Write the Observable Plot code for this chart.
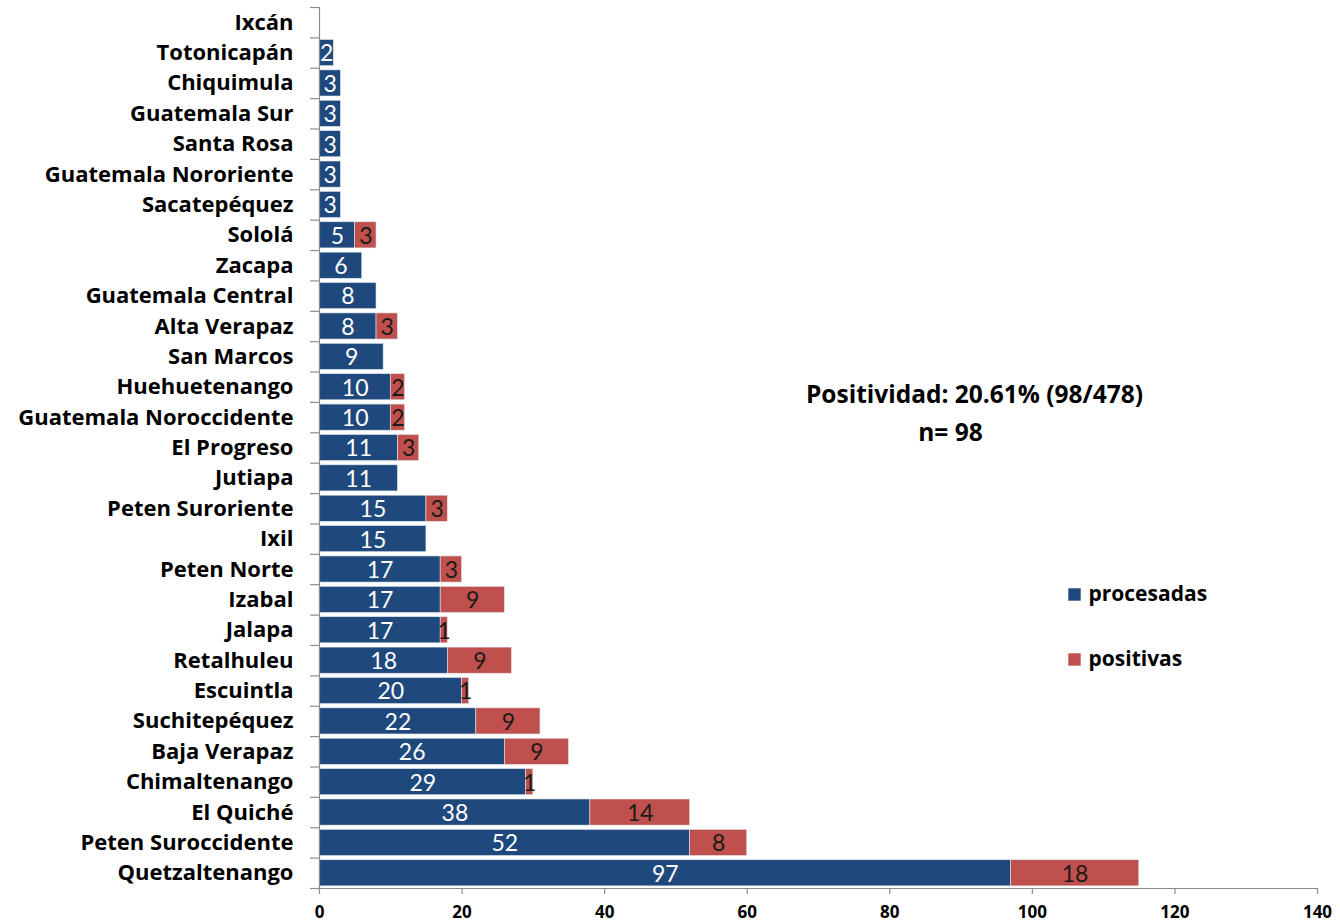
<!DOCTYPE html>
<html><head><meta charset="utf-8">
<script src="https://cdn.jsdelivr.net/npm/d3@7"></script>
<script src="https://cdn.jsdelivr.net/npm/@observablehq/plot@0.6"></script>
<style>
body{margin:0;background:#fff;}
#chart svg{display:block;}
</style>
</head><body><div id="chart"></div>
<script>
const regions = ["Ixcán","Totonicapán","Chiquimula","Guatemala Sur","Santa Rosa","Guatemala Nororiente","Sacatepéquez","Sololá","Zacapa","Guatemala Central","Alta Verapaz","San Marcos","Huehuetenango","Guatemala Noroccidente","El Progreso","Jutiapa","Peten Suroriente","Ixil","Peten Norte","Izabal","Jalapa","Retalhuleu","Escuintla","Suchitepéquez","Baja Verapaz","Chimaltenango","El Quiché","Peten Suroccidente","Quetzaltenango"];
const procesadas = [0,2,3,3,3,3,3,5,6,8,8,9,10,10,11,11,15,15,17,17,17,18,20,22,26,29,38,52,97];
const positivas  = [0,0,0,0,0,0,0,3,0,0,3,0,2,2,3,0,3,0,3,9,1,9,1,9,9,1,14,8,18];
const seriesNames = ["procesadas","positivas"];
const seriesColors = ["#1F497D","#C0504D"];
const labelColors = ["#ffffff","#1a1a1a"];
const xTicks = [0,20,40,60,80,100,120,140];
const annotationLines = ["Positividad: 20.61% (98/478)","n= 98"];

const rows = [];
regions.forEach((r,i)=>{
  rows.push({region:r, series:seriesNames[0], value:procesadas[i]});
  rows.push({region:r, series:seriesNames[1], value:positivas[i]});
});
const labelRows = rows.filter(d => d.series === seriesNames[0] || d.value > 0);

const W = 1340, H = 922, mT = 7, mB = 34;
const step = (H - mT - mB) / regions.length;
const axisGrey = "#8c8c8c";
const font = "'Open Sans', Lato, sans-serif";
const numFont = "Lato, 'Open Sans', sans-serif";

const chart = Plot.plot({
  width: W, height: H,
  marginLeft: 319, marginRight: 23, marginTop: mT, marginBottom: mB,
  style: {fontFamily: font, background: "#fff"},
  x: {domain: [0,140], ticks: xTicks, label: null},
  y: {domain: regions, paddingInner: 0.14, paddingOuter: 0.07, round: false, label: null},
  color: {domain: seriesNames, range: seriesColors},
  marks: [
    Plot.barX(rows, Plot.stackX({x: "value", y: "region", z: "series", fill: "series", stroke: "#dfe6ef", strokeWidth: 0.6})),
    Plot.text(labelRows, Plot.stackX({x: "value", y: "region", z: "series", text: d => String(d.value),
      fill: d => labelColors[seriesNames.indexOf(d.series)], fontSize: 23, fontFamily: numFont, dy: 1})),
    Plot.ruleX([0], {stroke: axisGrey, strokeWidth: 1.2}),
    Plot.ruleY([regions[regions.length-1]], {y: d => d, x1: 0, x2: 140, dy: step/2, stroke: axisGrey, strokeWidth: 1.2}),
    Plot.axisY({tickSize: 9, tickFormat: () => "", dy: step/2, stroke: axisGrey, strokeWidth: 1.2, label: null}),
    Plot.axisY({ticks: [regions[0]], tickSize: 9, tickFormat: () => "", dy: -step/2, stroke: axisGrey, strokeWidth: 1.2, label: null}),
    Plot.axisX({ticks: xTicks, tickSize: 6, tickPadding: 11, stroke: axisGrey, strokeWidth: 1.2, fill: "#000", fontSize: 17, fontWeight: "bold", label: null}),
    Plot.axisY({tickSize: 0, tickPadding: 26, fontSize: 22, fontWeight: "bold", fill: "#000", label: null}),
    Plot.text([annotationLines[0]], {text: d => d, frameAnchor: "top-left", textAnchor: "middle", lineAnchor: "middle", dx: 655, dy: 388, fontSize: 24.5, fontWeight: "bold", fill: "#000"}),
    Plot.text([annotationLines[1]], {text: d => d, frameAnchor: "top-left", textAnchor: "middle", lineAnchor: "middle", dx: 631, dy: 426, fontSize: 24.5, fontWeight: "bold", fill: "#000"}),
    Plot.dot([seriesNames[0]], {frameAnchor: "top-left", dx: 755, dy: 587, symbol: "square", r: 7, fill: seriesColors[0]}),
    Plot.dot([seriesNames[1]], {frameAnchor: "top-left", dx: 755, dy: 652, symbol: "square", r: 7, fill: seriesColors[1]}),
    Plot.text([seriesNames[0]], {text: d => d, frameAnchor: "top-left", textAnchor: "start", lineAnchor: "middle", dx: 769, dy: 587, fontSize: 21, fontWeight: "bold", fill: "#000"}),
    Plot.text([seriesNames[1]], {text: d => d, frameAnchor: "top-left", textAnchor: "start", lineAnchor: "middle", dx: 769, dy: 652, fontSize: 21, fontWeight: "bold", fill: "#000"})
  ]
});
document.getElementById("chart").appendChild(chart);
</script>
</body></html>
